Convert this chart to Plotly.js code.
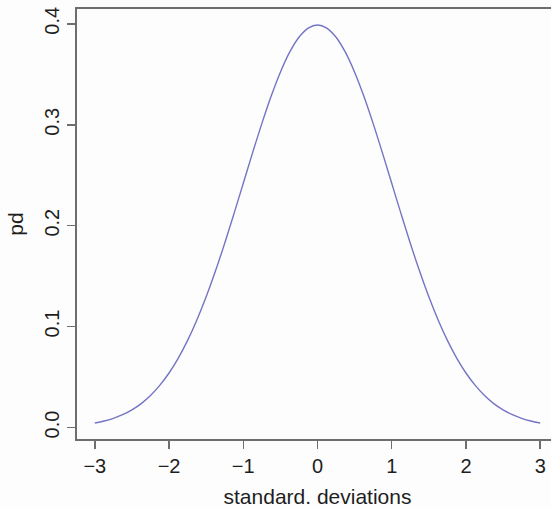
<!DOCTYPE html>
<html>
<head>
<meta charset="utf-8">
<script src="https://cdn.plot.ly/plotly-3.0.1.min.js"></script>
<style>
html,body{margin:0;padding:0;overflow:hidden;background:#fdfdfd;}
#chart{width:558px;height:509px;}
</style>
</head>
<body>
<div id="chart"></div>
<script>
// standard deviations (x) and probability density (y)
const sd = [-3, -2.875, -2.75, -2.625, -2.5, -2.375, -2.25, -2.125, -2, -1.875, -1.75, -1.625,
            -1.5, -1.375, -1.25, -1.125, -1, -0.875, -0.75, -0.625, -0.5, -0.375, -0.25, -0.125,
            0, 0.125, 0.25, 0.375, 0.5, 0.625, 0.75, 0.875, 1, 1.125, 1.25, 1.375,
            1.5, 1.625, 1.75, 1.875, 2, 2.125, 2.25, 2.375, 2.5, 2.625, 2.75, 2.875, 3];
const pd = [0.0044, 0.0064, 0.0091, 0.0127, 0.0175, 0.0237, 0.0317, 0.0417, 0.054, 0.0688, 0.0863, 0.1066,
            0.1295, 0.155, 0.1826, 0.2119, 0.242, 0.2721, 0.3011, 0.3282, 0.3521, 0.3719, 0.3867, 0.3958,
            0.3989, 0.3958, 0.3867, 0.3719, 0.3521, 0.3282, 0.3011, 0.2721, 0.242, 0.2119, 0.1826, 0.155,
            0.1295, 0.1066, 0.0863, 0.0688, 0.054, 0.0417, 0.0317, 0.0237, 0.0175, 0.0127, 0.0091, 0.0064, 0.0044];
const xTicks = [-3, -2, -1, 0, 1, 2, 3];
const xTickText = ["\u22123", "\u22122", "\u22121", "0", "1", "2", "3"];
const yTicks = [0, 0.1, 0.2, 0.3, 0.4];
const yTickText = ["0.0", "0.1", "0.2", "0.3", "0.4"];

const axisColor = "#6e6e6e";
const fontFam = "Liberation Sans, Arial, sans-serif";
const txtColor = "#1e1e1e";

Plotly.newPlot("chart", [{
  x: sd, y: pd, type: "scatter", mode: "lines",
  line: {color: "#7474c4", width: 1.4, shape: "spline"},
  hoverinfo: "none"
}], {
  width: 558, height: 509,
  margin: {l: 77, r: 0, t: 9, b: 70},
  paper_bgcolor: "#fdfdfd", plot_bgcolor: "#fdfdfd",
  showlegend: false,
  font: {family: fontFam, size: 20, color: txtColor},
  xaxis: {
    range: [-3.24, 3.24], tickvals: xTicks, ticktext: xTickText,
    ticks: "outside", ticklen: 8, tickwidth: 1.5, tickcolor: axisColor,
    showline: true, linecolor: axisColor, linewidth: 2, mirror: true,
    showgrid: false, zeroline: false,
    tickfont: {size: 20, family: fontFam, color: txtColor},
    title: {text: "standard. deviations", font: {size: 21, family: fontFam, color: txtColor}, standoff: 13},
    automargin: false
  },
  yaxis: {
    range: [-0.0114, 0.4147], tickvals: yTicks, ticktext: yTickText,
    ticks: "outside", ticklen: 8, tickwidth: 1.5, tickcolor: axisColor,
    showline: true, linecolor: axisColor, linewidth: 2, mirror: true,
    showgrid: false, zeroline: false, tickangle: -90,
    tickfont: {size: 20, family: fontFam, color: txtColor},
    title: {text: "pd", font: {size: 21, family: fontFam, color: txtColor}, standoff: 12},
    automargin: false
  }
}, {staticPlot: true, displayModeBar: false});
</script>
</body>
</html>
